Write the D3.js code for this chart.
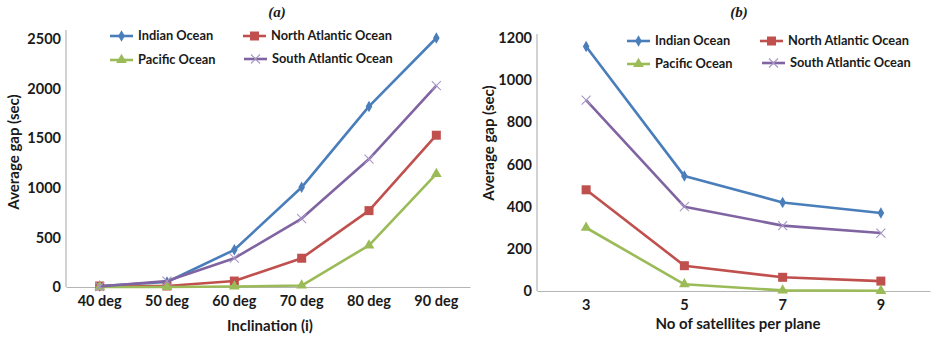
<!DOCTYPE html>
<html>
<head>
<meta charset="utf-8">
<script src="https://cdn.jsdelivr.net/npm/d3@7"></script>
<style>
  body { margin: 0; background: #fff; }
  svg { display: block; }
  text { font-family: Lato, "Open Sans", sans-serif; font-weight: bold; fill: #1a1a1a; }
</style>
</head>
<body>
<svg id="chart" width="931" height="340"></svg>
<script>
// Series names and colours
const seriesNames = ["Indian Ocean", "North Atlantic Ocean", "Pacific Ocean", "South Atlantic Ocean"];
const seriesColors = ["#4a7ebb", "#c0504d", "#9bbb59", "#8064a2"];
const seriesMarkers = ["diamond", "square", "triangle", "cross"];

// Panel (a): average gap vs inclination
const inclinations = ["40 deg", "50 deg", "60 deg", "70 deg", "80 deg", "90 deg"];
const aIndian        = [10, 50, 375, 1005, 1820, 2510];
const aNorthAtlantic = [10, 10, 60, 290, 770, 1530];
const aPacific       = [0, 0, 5, 15, 420, 1140];
const aSouthAtlantic = [5, 60, 290, 690, 1290, 2030];
const aTicks = [0, 500, 1000, 1500, 2000, 2500];

// Panel (b): average gap vs satellites per plane
const satellites = ["3", "5", "7", "9"];
const bIndian        = [1160, 545, 420, 370];
const bNorthAtlantic = [480, 120, 65, 47];
const bPacific       = [300, 32, 3, 1];
const bSouthAtlantic = [905, 400, 310, 275];
const bTicks = [0, 200, 400, 600, 800, 1000, 1200];

const svg = d3.select("#chart");

function drawMarker(g, type, color) {
  if (type === "diamond") {
    g.append("path").attr("d", d3.symbol(d3.symbolDiamond, 38)()).attr("fill", color);
  } else if (type === "square") {
    g.append("rect").attr("x", -4.5).attr("y", -4.5).attr("width", 9).attr("height", 9).attr("fill", color);
  } else if (type === "triangle") {
    g.append("path").attr("d", d3.symbol(d3.symbolTriangle, 50)()).attr("fill", color);
  } else {
    g.append("path").attr("d", "M-4.5,-4.5L4.5,4.5M-4.5,4.5L4.5,-4.5").attr("stroke", "#a796c4").attr("stroke-width", 1.1).attr("fill", "none");
  }
}

function drawPanel(p) {
  const x = d3.scaleBand().domain(p.categories).range([p.left, p.right]);
  const y = d3.scaleLinear().domain([0, p.max]).range([p.bottom, p.top]);
  const g = svg.append("g");

  // Axes
  const yAxis = g.append("g").attr("transform", `translate(${p.left},0)`)
    .call(d3.axisLeft(y).tickValues(p.ticks).tickFormat(d3.format("d")).tickSize(0).tickPadding(5));
  yAxis.select(".domain").attr("stroke", "#b5b5b5").attr("stroke-width", 1.2)
    .attr("d", `M0,${p.axisTop}V${p.bottom}`);
  yAxis.selectAll(".tick text").attr("font-size", 14.5).attr("font-family", null).attr("fill", "#1a1a1a");

  const xAxis = g.append("g").attr("transform", `translate(0,${p.bottom})`)
    .call(d3.axisBottom(x).tickSize(0).tickPadding(9));
  xAxis.select(".domain").attr("stroke", "#b5b5b5").attr("stroke-width", 1.2);
  xAxis.selectAll(".tick text").attr("font-size", 14.5).attr("font-family", null).attr("fill", "#1a1a1a");

  // Series lines and markers
  p.series.forEach((vals, i) => {
    const pts = vals.map((v, j) => [x(p.categories[j]) + x.bandwidth() / 2, y(v)]);
    g.append("path").attr("d", d3.line()(pts)).attr("fill", "none")
      .attr("stroke", seriesColors[i]).attr("stroke-width", 2.6).attr("stroke-linejoin", "round");
    pts.forEach(pt => {
      drawMarker(g.append("g").attr("transform", `translate(${pt[0]},${pt[1]})`), seriesMarkers[i], seriesColors[i]);
    });
  });

  // Legend
  seriesNames.forEach((name, i) => {
    const lx = p.legend[i][0], ly = p.legend[i][1];
    g.append("line").attr("x1", lx).attr("x2", lx + 23).attr("y1", ly).attr("y2", ly)
      .attr("stroke", seriesColors[i]).attr("stroke-width", 2.6);
    drawMarker(g.append("g").attr("transform", `translate(${lx + 11.5},${ly})`), seriesMarkers[i], seriesColors[i]);
    g.append("text").attr("x", lx + 28).attr("y", ly).attr("dy", "0.35em")
      .attr("font-size", 12.8).text(name);
  });

  // Titles
  g.append("text").attr("x", p.titleX).attr("y", 17).attr("text-anchor", "middle")
    .style("font-family", "'Liberation Serif', serif").style("font-style", "italic")
    .attr("font-size", 15).text(p.title);
  g.append("text").attr("x", p.xLabel[0]).attr("y", p.xLabel[1]).attr("text-anchor", "middle")
    .attr("font-size", 15).text(p.xTitle);
  g.append("text").attr("transform", `translate(${p.yLabel[0]},${p.yLabel[1]}) rotate(-90)`)
    .attr("text-anchor", "middle").attr("font-size", 15).text("Average gap (sec)");
}

drawPanel({
  categories: inclinations, series: [aIndian, aNorthAtlantic, aPacific, aSouthAtlantic],
  ticks: aTicks, max: 2500, left: 66, right: 470, top: 39, bottom: 287, axisTop: 30,
  legend: [[110, 36], [243, 36], [110, 60], [244, 59]],
  title: "(a)", titleX: 277, xTitle: "Inclination (i)", xLabel: [270, 331], yLabel: [19, 152]
});

drawPanel({
  categories: satellites, series: [bIndian, bNorthAtlantic, bPacific, bSouthAtlantic],
  ticks: bTicks, max: 1200, left: 537, right: 930, top: 38, bottom: 291, axisTop: 34,
  legend: [[627, 41], [760, 41], [627, 64], [762, 63]],
  title: "(b)", titleX: 739, xTitle: "No of satellites per plane", xLabel: [738, 329], yLabel: [494, 143]
});
</script>
</body>
</html>
